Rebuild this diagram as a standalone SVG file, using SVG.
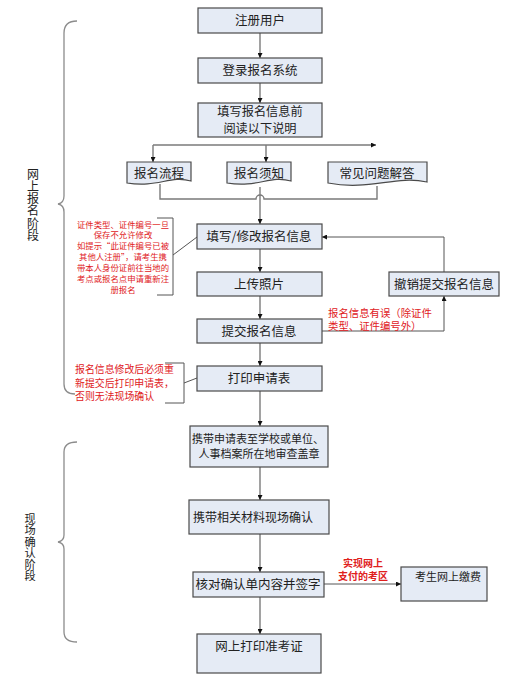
<svg xmlns="http://www.w3.org/2000/svg" width="515" height="697" viewBox="0 0 515 697">
<defs>
<style>
.box{fill:#e5ebf5;stroke:#4a4a4a;stroke-width:1.2}
.t{font-family:"Noto Sans CJK SC","Liberation Serif",serif;font-size:12.5px;fill:#222;text-anchor:middle}
.r{font-family:"Noto Sans CJK SC","Liberation Sans",sans-serif;fill:#e0201c;text-anchor:middle}
.c{fill:none;stroke:#7a7a7a;stroke-width:1.4}
.c2{fill:none;stroke:#555;stroke-width:1}
.br{fill:none;stroke:#8c8c8c;stroke-width:1.3}
.lab{font-family:"Noto Sans CJK SC","Liberation Serif",serif;fill:#222;writing-mode:vertical-rl}
</style>
<marker id="a" viewBox="0 0 10 10" refX="10" refY="5" markerWidth="5" markerHeight="5" orient="auto" markerUnits="userSpaceOnUse"><path d="M0,0 L10,5 L0,10 Z" fill="#111"/></marker>
</defs>
<rect width="515" height="697" fill="#fff"/>

<g id="connectors">
<path class="c" d="M260,33 V58" marker-end="url(#a)"/>
<path class="c" d="M260,83 V103" marker-end="url(#a)"/>
<path class="c" d="M153,145 H376" marker-end="url(#a)"/>
<path class="c" d="M153,145 V162" marker-end="url(#a)"/>
<path class="c" d="M266,145 V162" marker-end="url(#a)"/>
<path class="c" d="M160,184 V199 H256 A4,4 0 0 1 264,199 H377 V186"/>
<path class="c" d="M260,187 V224" marker-end="url(#a)"/>
<path class="c" d="M260,249 V272" marker-end="url(#a)"/>
<path class="c" d="M260,296 V319" marker-end="url(#a)"/>
<path class="c" d="M260,343 V366" marker-end="url(#a)"/>
<path class="c" d="M260,391 V426" marker-end="url(#a)"/>
<path class="c" d="M260,467 V500" marker-end="url(#a)"/>
<path class="c" d="M260,534 V572" marker-end="url(#a)"/>
<path class="c" d="M260,597 V634" marker-end="url(#a)"/>
<path class="c2" d="M444,272 V237 H322" marker-end="url(#a)"/>
<path class="c2" d="M322,331 H444 V296" marker-end="url(#a)"/>
<path class="c2" d="M324,584 H401" marker-end="url(#a)"/>
<path class="c2" d="M157,218 H173 V295 H157 M173,255 L197,237"/>
<path class="c2" d="M165,363 H184 V403 H165 M184,383 L197,378"/>
</g>

<g id="brace-online">
<path class="br" d="M77,21 Q64,21 64,33 V196 Q64,203 58,204 Q64,205 64,212 V384 Q64,394 75,394"/>
<text class="lab" x="33" y="168" style="font-size:12px;letter-spacing:0.3px">网上报名阶段</text>
</g>
<g id="brace-onsite">
<path class="br" d="M77,442 Q64,442 64,452 V535 Q64,541 58,542 Q64,543 64,549 V632 Q64,642 77,642"/>
<text class="lab" x="30" y="513" style="font-size:11.2px;letter-spacing:0.3px">现场确认阶段</text>
</g>

<g id="n1"><rect class="box" x="198" y="8" width="124" height="25"/><text class="t" x="260" y="25">注册用户</text></g>
<g id="n2"><rect class="box" x="198" y="58" width="124" height="25"/><text class="t" x="260" y="75">登录报名系统</text></g>
<g id="n3"><rect class="box" x="198" y="103" width="124" height="34"/><text class="t" x="260" y="116" style="font-size:12.2px">填写报名信息前</text><text class="t" x="260" y="132.5" style="font-size:12.2px">阅读以下说明</text></g>

<g id="d1"><path class="box" d="M127,162 H191 V181 C170,175 158,188 127,183 Z"/><text class="t" x="159" y="178">报名流程</text></g>
<g id="d2"><path class="box" d="M227,162 H291 V181 C270,175 258,188 227,183 Z"/><text class="t" x="259" y="178">报名须知</text></g>
<g id="d3"><path class="box" d="M328,162 H427 V182 C395,175 370,191 328,183 Z"/><text class="t" x="377" y="178">常见问题解答</text></g>

<g id="n4"><rect class="box" x="197" y="224" width="125" height="25"/><text class="t" x="259" y="241">填写/修改报名信息</text></g>
<g id="n5"><rect class="box" x="197" y="272" width="125" height="24"/><text class="t" x="259" y="289">上传照片</text></g>
<g id="n6"><rect class="box" x="197" y="319" width="125" height="24"/><text class="t" x="259" y="336">提交报名信息</text></g>
<g id="n7"><rect class="box" x="197" y="366" width="125" height="25"/><text class="t" x="259" y="383">打印申请表</text></g>
<g id="n8"><rect class="box" x="389" y="272" width="110" height="24"/><text class="t" x="444" y="289">撤销提交报名信息</text></g>

<g id="n9"><rect class="box" x="190" y="426" width="138" height="41"/><text class="t" x="258" y="442.5" style="font-size:11px">携带申请表至学校或单位、</text><text class="t" x="259" y="457.5" style="font-size:11px">人事档案所在地审查盖章</text></g>
<g id="n10"><rect class="box" x="189" y="500" width="140" height="34"/><text class="t" x="253" y="522" style="font-size:12px">携带相关材料现场确认</text></g>
<g id="n11"><rect class="box" x="193" y="572" width="131" height="25"/><text class="t" x="258" y="589">核对确认单内容并签字</text></g>
<g id="n12"><rect class="box" x="197" y="634" width="124" height="39"/><text class="t" x="259" y="651">网上打印准考证</text></g>
<g id="n13"><rect class="box" x="401" y="567" width="86" height="34"/><text class="t" x="448" y="581" style="font-size:11px">考生网上缴费</text></g>

<g id="notes">
<text class="r" style="font-size:8.4px"><tspan x="123" y="227.5">证件类型、证件编号一旦</tspan><tspan x="123" y="238">保存不允许修改</tspan><tspan x="123" y="249">如提示“此证件编号已被</tspan><tspan x="123" y="260">其他人注册”，请考生携</tspan><tspan x="123" y="271">带本人身份证前往当地的</tspan><tspan x="123" y="282">考点或报名点申请重新注</tspan><tspan x="123" y="293">册报名</tspan></text>
<text class="r" style="font-size:9.9px;text-anchor:start"><tspan x="75" y="373">报名信息修改后必须重</tspan><tspan x="75" y="386.5">新提交后打印申请表，</tspan><tspan x="75" y="400">否则无法现场确认</tspan></text>
<text class="r" style="font-size:10.4px;text-anchor:start"><tspan x="328" y="316.5">报名信息有误（除证件</tspan><tspan x="328" y="330">类型、证件编号外）</tspan></text>
<text class="r" style="font-size:10px;font-weight:bold"><tspan x="363" y="566.5">实现网上</tspan><tspan x="363" y="580">支付的考区</tspan></text>
</g>
</svg>
